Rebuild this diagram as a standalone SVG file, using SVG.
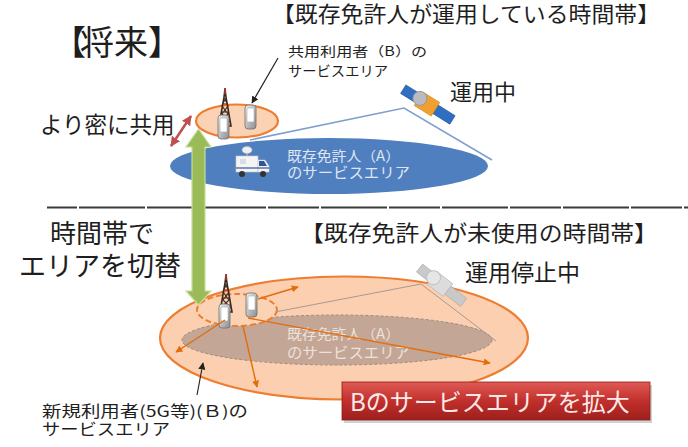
<svg xmlns="http://www.w3.org/2000/svg" width="688" height="447" viewBox="0 0 688 447">
  <style>
    .t { font-family: "Noto Sans CJK JP", "Noto Sans", sans-serif; fill: #1e1e1e; }
    .w { font-family: "Noto Sans CJK JP", "Noto Sans", sans-serif; }
    .conn { fill: none; }
  </style>
  <defs>
    <marker id="ahBlack" viewBox="0 0 10 10" refX="9" refY="5" markerWidth="6" markerHeight="6" orient="auto-start-reverse">
      <path d="M0,0 L10,5 L0,10 z" fill="#222"/>
    </marker>
    <marker id="ahOrange" viewBox="0 0 10 10" refX="9" refY="5" markerWidth="5" markerHeight="5" orient="auto-start-reverse">
      <path d="M0,0 L10,5 L0,10 z" fill="#e46c0a"/>
    </marker>
    <marker id="ahRed" viewBox="0 0 10 10" refX="9" refY="5" markerWidth="4" markerHeight="4" orient="auto-start-reverse">
      <path d="M0,0 L10,5 L0,10 z" fill="#c0504d"/>
    </marker>
    <linearGradient id="redBox" x1="0" y1="0" x2="0" y2="1">
      <stop offset="0" stop-color="#e05a55"/>
      <stop offset="0.5" stop-color="#c0302c"/>
      <stop offset="1" stop-color="#9e1f1c"/>
    </linearGradient>
    <linearGradient id="phone" x1="0" y1="0" x2="1" y2="1">
      <stop offset="0" stop-color="#f2f2f2"/>
      <stop offset="1" stop-color="#8c8c8c"/>
    </linearGradient>
    <!-- lattice radio tower -->
    <g id="tower">
      <path d="M7,0 L7.8,8 L13,38 L1,38 L6.2,8 z" fill="none" stroke="#3a2a22" stroke-width="1.6"/>
      <path d="M6.5,10 L10,18 L4,26 L12,34 M7.5,10 L4,18 L10,26 L2,34 M3,24 L11,24 M2,31 L12,31" stroke="#3a2a22" stroke-width="1.1" fill="none"/>
      <path d="M5.5,16 L8.5,16" stroke="#c0392b" stroke-width="1.5"/>
      <path d="M7,0 L7,6" stroke="#c0392b" stroke-width="1.4"/>
    </g>
    <!-- handset -->
    <g id="handset">
      <rect x="0" y="0" width="11" height="24" rx="3" fill="url(#phone)" stroke="#6f6f6f" stroke-width="0.8"/>
      <rect x="2" y="3" width="7" height="14" rx="1" fill="#ffffff" stroke="#9a9a9a" stroke-width="0.5"/>
    </g>
  </defs>

  <rect width="688" height="447" fill="#ffffff"/>

  <!-- headings -->
  <g id="title-future">
    <text class="t" x="52" y="55" font-size="34">【<tspan dx="-6">将来</tspan>】</text>
  </g>
  <g id="title-in-use">
    <text class="t" x="272" y="22" font-size="21.5" textLength="388" lengthAdjust="spacingAndGlyphs">【既存免許人が運用している時間帯】</text>
  </g>
  <g id="title-unused">
    <text class="t" x="300" y="241" font-size="22" textLength="358" lengthAdjust="spacingAndGlyphs">【既存免許人が未使用の時間帯】</text>
  </g>

  <!-- separator -->
  <g id="separator">
    <line x1="47" y1="207.5" x2="77" y2="207.5" stroke="#3a3a3a" stroke-width="2"/>
    <line x1="79" y1="207.5" x2="688" y2="207.5" stroke="#3a3a3a" stroke-width="2" stroke-dasharray="66 2 51 2"/>
  </g>

  <!-- upper scene: licensed operator active -->
  <g id="area-A-active">
    <ellipse cx="329" cy="166" rx="159" ry="28" fill="#4f7fbf"/>
    <text class="w" x="287" y="161" font-size="14" fill="#dfe6f2" textLength="113" lengthAdjust="spacingAndGlyphs">既存免許人（A）</text>
    <text class="w" x="287" y="178" font-size="14.5" fill="#dfe6f2" textLength="123" lengthAdjust="spacingAndGlyphs">のサービスエリア</text>
  </g>
  <g id="truck">
    <rect x="236" y="156" width="22" height="16" fill="#f4f4f4" stroke="#c8c8c8" stroke-width="0.6"/>
    <path d="M258,160 L265,160 L269,166 L269,172 L258,172 z" fill="#f4f4f4" stroke="#c8c8c8" stroke-width="0.6"/>
    <path d="M259,161 L264,161 L267,166 L259,166 z" fill="#2e5597"/>
    <rect x="240" y="159" width="6" height="5" fill="#d6dde8"/>
    <rect x="236" y="167" width="33" height="2" fill="#2e5597" opacity="0.6"/>
    <circle cx="242" cy="174" r="3" fill="#333"/>
    <circle cx="263" cy="174" r="3" fill="#333"/>
    <path d="M247,156 L247,152" stroke="#bbb" stroke-width="1.2"/>
    <ellipse cx="247" cy="150" rx="5" ry="3.5" fill="#f0f0f0" stroke="#bcbcbc" stroke-width="0.6"/>
  </g>

  <g id="area-B-shared">
    <ellipse cx="237" cy="121" rx="41" ry="16.5" fill="#fbd3b4" stroke="#ed7d31" stroke-width="2.2"/>
  </g>
  <g id="site-B-top">
    <use href="#tower" x="218" y="88"/>
    <use href="#handset" x="218" y="115"/>
    <use href="#handset" x="245" y="105"/>
  </g>

  <g id="satellite-active" transform="translate(427,104) rotate(32)">
    <rect x="-28" y="-5" width="18" height="10" fill="#2f6ec2" stroke="#1f4f8f" stroke-width="0.6"/>
    <rect x="10" y="-5" width="20" height="10" fill="#2f6ec2" stroke="#1f4f8f" stroke-width="0.6"/>
    <rect x="-10" y="-8" width="20" height="16" fill="#f0a030" stroke="#d0841a" stroke-width="0.6"/>
    <circle cx="-9" cy="-1" r="7" fill="#b8bcc2" stroke="#8e949b" stroke-width="0.8"/>
  </g>
  <g id="label-active">
    <text class="t" x="450" y="100" font-size="22">運用中</text>
  </g>

  <g id="label-B-top">
    <text class="t" x="288" y="56" font-size="13" textLength="139" lengthAdjust="spacingAndGlyphs">共用利用者（B）の</text>
    <text class="t" x="288" y="76" font-size="14" textLength="100" lengthAdjust="spacingAndGlyphs">サービスエリア</text>
  </g>
  <g id="label-denser">
    <text class="t" x="40" y="133" font-size="22.5">より密に共用</text>
  </g>
  <g id="label-switch">
    <text class="t" x="50" y="243" font-size="26">時間帯で</text>
    <text class="t" x="19" y="276" font-size="27">エリアを切替</text>
  </g>

  <!-- lower scene: licensed operator idle -->
  <g id="area-B-expanded">
    <ellipse cx="344" cy="338" rx="184" ry="61.5" fill="#fbcfaf" stroke="#ed7d31" stroke-width="2.2"/>
  </g>
  <g id="area-A-idle">
    <ellipse cx="337" cy="340" rx="155" ry="25" fill="#c4a696" stroke="#9b8a80" stroke-width="1" stroke-dasharray="3 2"/>
    <text class="w" x="287" y="339" font-size="14" fill="#ece2da" textLength="113" lengthAdjust="spacingAndGlyphs">既存免許人（A）</text>
    <text class="w" x="287" y="358" font-size="14.5" fill="#ece2da" textLength="123" lengthAdjust="spacingAndGlyphs">のサービスエリア</text>
  </g>
  <g id="area-B-core">
    <ellipse cx="237" cy="310" rx="40" ry="16" fill="#fbd3b4" stroke="#ed7d31" stroke-width="2" stroke-dasharray="6 3"/>
  </g>
  <g id="site-B-bottom">
    <use href="#tower" x="219" y="274"/>
    <use href="#handset" x="219" y="304"/>
    <use href="#handset" x="246" y="293"/>
  </g>

  <g id="satellite-idle" transform="translate(440,284) rotate(38)">
    <rect x="-26" y="-5" width="16" height="10" fill="#c9c9c9" stroke="#a8a8a8" stroke-width="0.6"/>
    <rect x="10" y="-5" width="20" height="10" fill="#c9c9c9" stroke="#a8a8a8" stroke-width="0.6"/>
    <rect x="-10" y="-8" width="20" height="16" fill="#dcdcdc" stroke="#b0b0b0" stroke-width="0.6"/>
    <circle cx="-9" cy="-1" r="7" fill="#e6e6e6" stroke="#b8b8b8" stroke-width="0.8"/>
  </g>
  <g id="label-idle">
    <text class="t" x="465" y="281" font-size="23">運用停止中</text>
  </g>

  <g id="label-B-new">
    <text class="t" x="42" y="417" font-size="15.5" textLength="206" lengthAdjust="spacingAndGlyphs">新規利用者(5G等)(Ｂ)の</text>
    <text class="t" x="42" y="435" font-size="16" textLength="128" lengthAdjust="spacingAndGlyphs">サービスエリア</text>
  </g>

  <g id="banner">
    <rect x="344" y="385" width="308" height="38" fill="#000" opacity="0.18"/>
    <rect x="342" y="382" width="308" height="38" fill="url(#redBox)" stroke="#8e1b18" stroke-width="0.8"/>
    <text class="w" x="350" y="411" font-size="24" fill="#fbe9e8">Bのサービスエリアを拡大</text>
  </g>

  <!-- connectors -->
  <g id="connectors" class="conn">
    <!-- satellite links -->
    <polyline points="250,140 404,108 492,160" stroke="#7f9fcf" stroke-width="1.6"/>
    <polyline points="275,312 421,284 496,341" stroke="#a89a92" stroke-width="1"/>
    <!-- callouts -->
    <line x1="278" y1="58" x2="252" y2="103" stroke="#222" stroke-width="1.2" marker-end="url(#ahBlack)"/>
    <line x1="197" y1="395" x2="203" y2="363" stroke="#222" stroke-width="1.2" marker-end="url(#ahBlack)"/>
    <!-- denser sharing -->
    <line x1="171" y1="146" x2="191" y2="116" stroke="#c0504d" stroke-width="2.5" marker-start="url(#ahRed)" marker-end="url(#ahRed)"/>
    <!-- coverage expansion -->
    <line x1="258" y1="299" x2="298" y2="287" stroke="#e46c0a" stroke-width="1.4" marker-end="url(#ahOrange)"/>
    <line x1="225" y1="320" x2="176" y2="352" stroke="#e46c0a" stroke-width="1.4" marker-end="url(#ahOrange)"/>
    <line x1="243" y1="326" x2="257" y2="387" stroke="#e46c0a" stroke-width="1.4" marker-end="url(#ahOrange)"/>
    <line x1="248" y1="318" x2="490" y2="363" stroke="#e46c0a" stroke-width="1.4" marker-end="url(#ahOrange)"/>
    <!-- time switching -->
    <polygon points="198.5,129 211,147 205,147 205,291 211,291 198.5,305 186,291 192,291 192,147 186,147" fill="#9bbb59" stroke="#c6dc98" stroke-width="1.2"/>
  </g>
</svg>
